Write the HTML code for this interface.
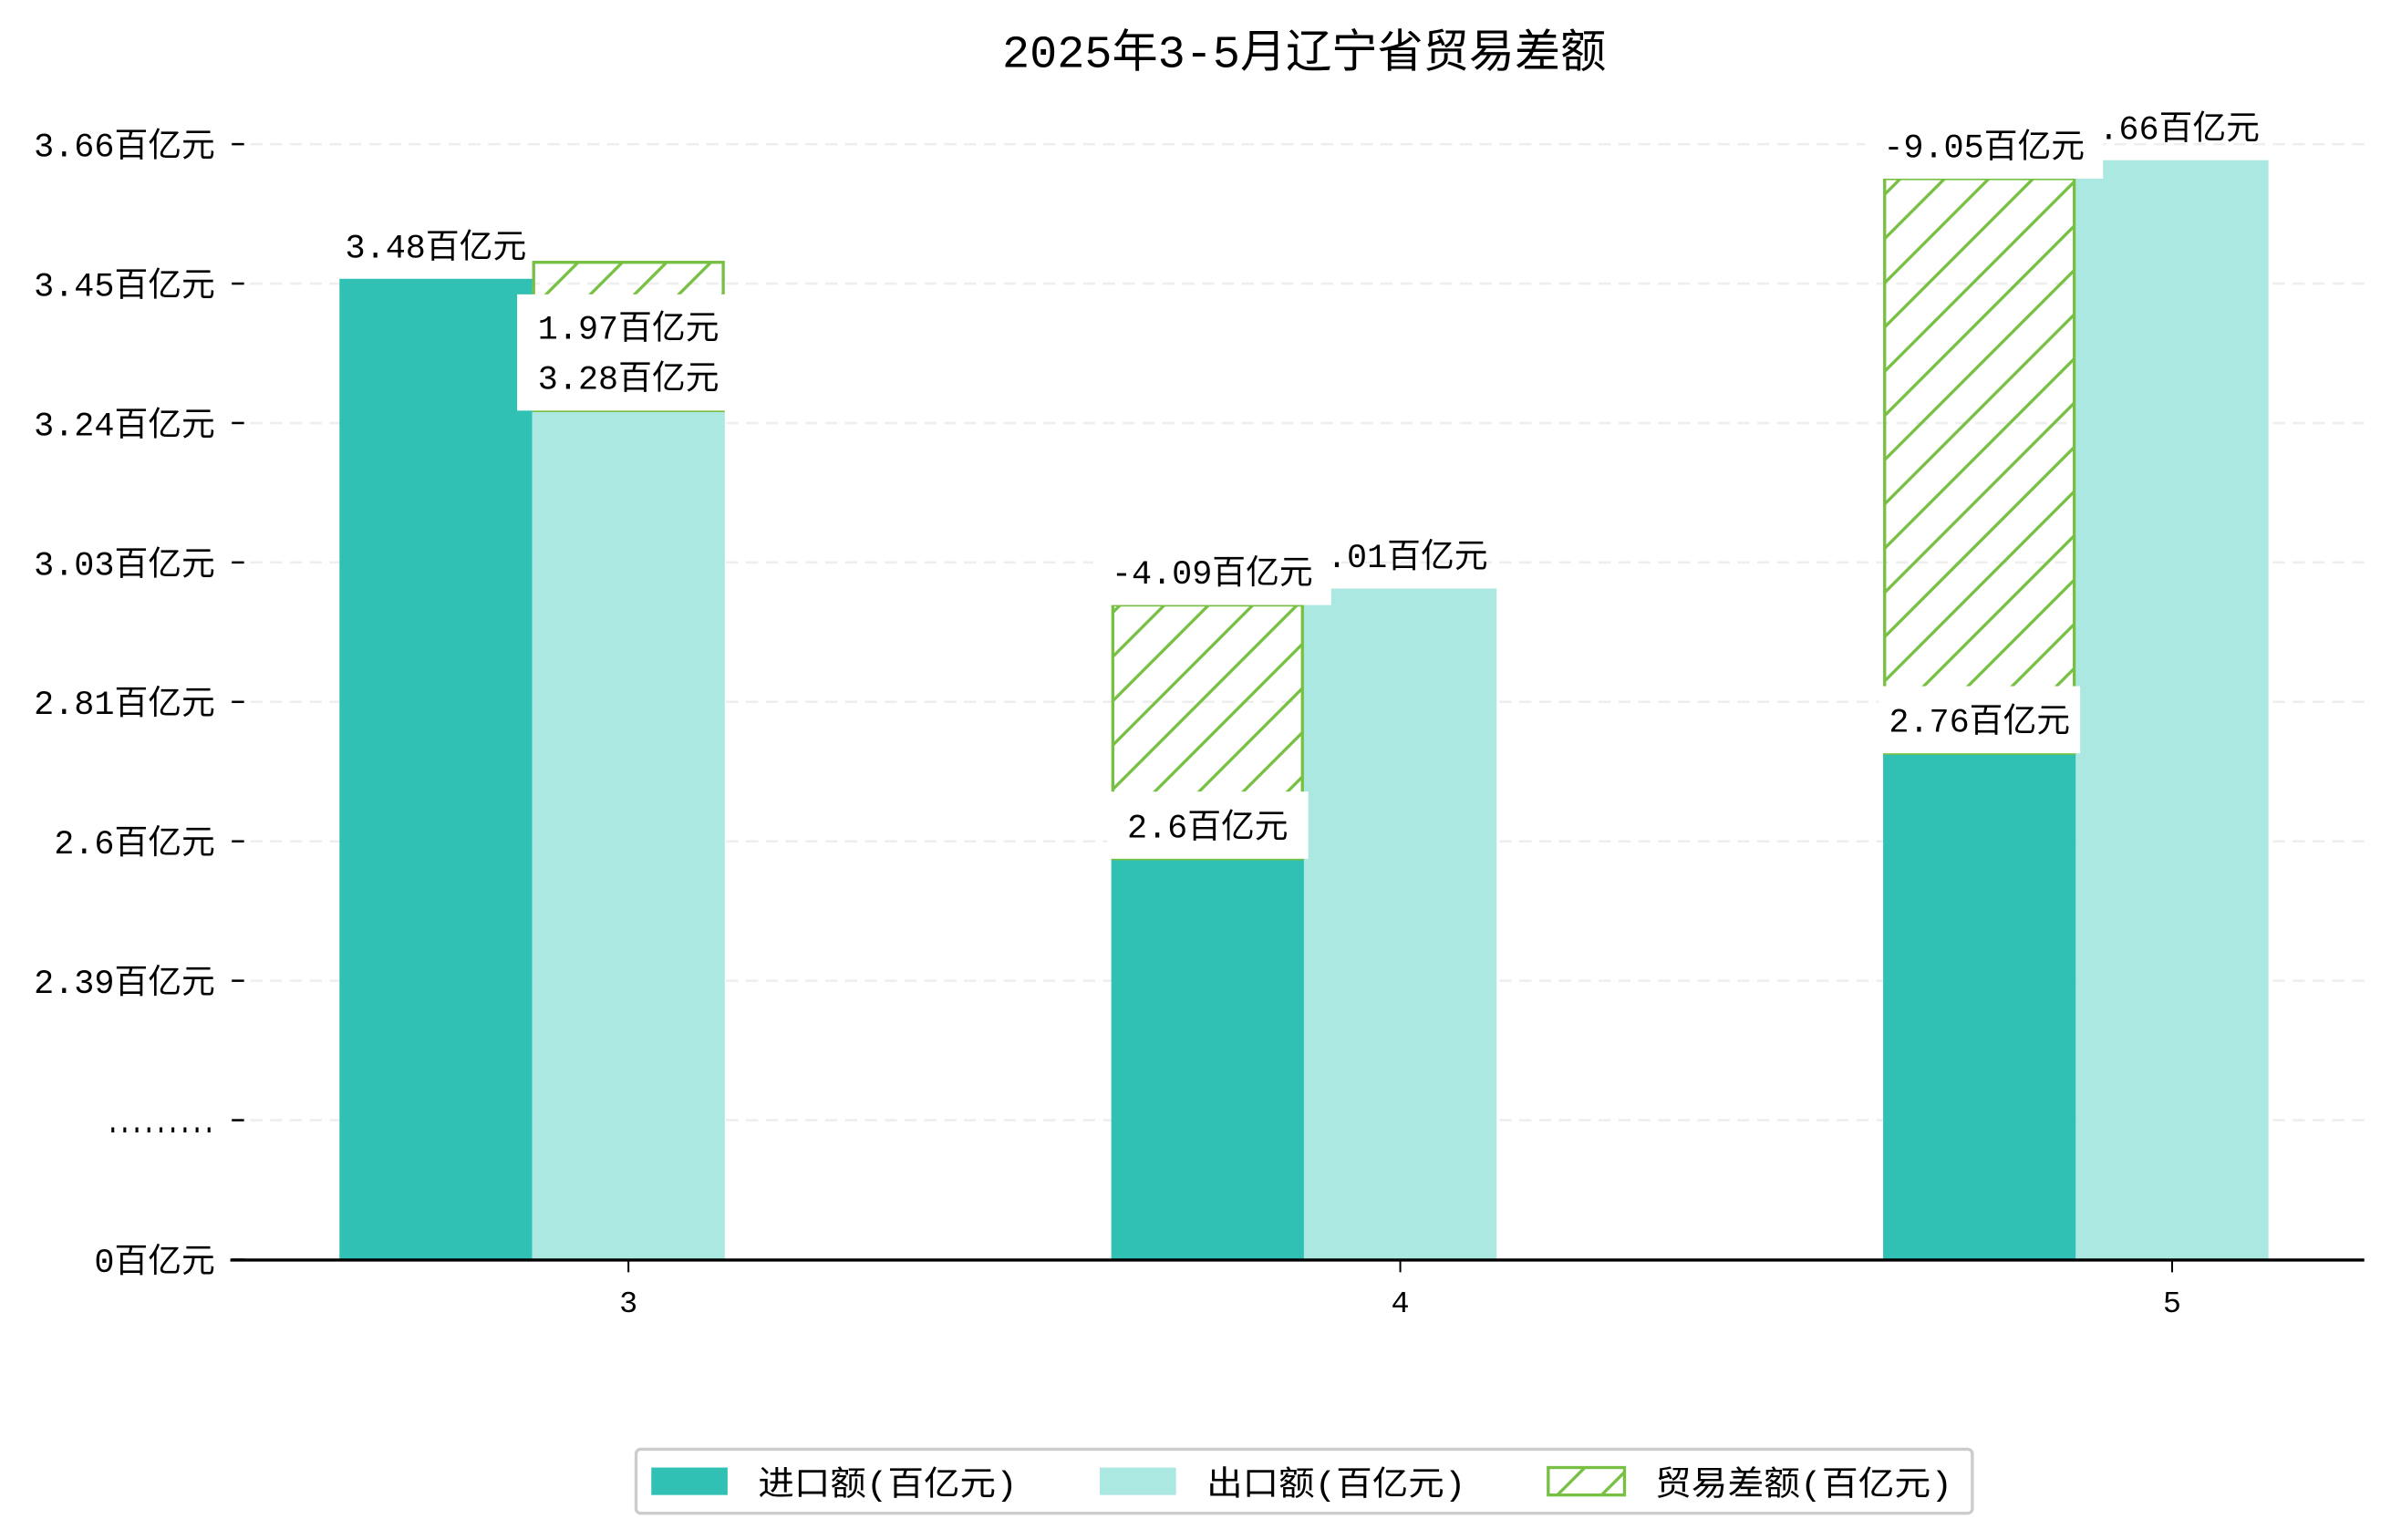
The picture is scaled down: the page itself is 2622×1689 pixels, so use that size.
<!DOCTYPE html>
<html><head><meta charset="utf-8">
<style>
html,body{margin:0;padding:0;background:#fff;}
svg{display:block;}
text{font-family:"Liberation Mono","WenQuanYi Zen Hei","Noto Sans CJK SC",monospace;fill:#000;}
</style></head>
<body>
<svg id="chart" width="2622" height="1689" viewBox="0 0 1567.5 1009.5" preserveAspectRatio="none" xmlns="http://www.w3.org/2000/svg">
<defs>
<pattern id="hatch" patternUnits="userSpaceOnUse" width="29" height="29">
<path d="M-3,3 L3,-3 M0,29 L29,0 M26,32 L32,26" stroke="#77c043" stroke-width="2"/>
</pattern>
</defs>
<text x="855" y="44" font-size="30" text-anchor="middle">2025年3-5月辽宁省贸易差额</text>
<g id="grid"></g>
<g id="bars"></g>
<g id="labels"></g>
<g id="axes"></g>
<g>
<rect x="417" y="950" width="876" height="42" rx="3" fill="#fff" stroke="#cccccc" stroke-width="2"/>
<rect x="427" y="962" width="50" height="18" fill="#31c1b4"/>
<text x="497" y="980" font-size="22" textLength="170" lengthAdjust="spacingAndGlyphs">进口额(百亿元)</text>
<rect x="721" y="962" width="50" height="18" fill="#abe8e2"/>
<text x="791" y="980" font-size="22" textLength="170" lengthAdjust="spacingAndGlyphs">出口额(百亿元)</text>
<rect x="1015" y="962" width="50" height="18" fill="url(#hatch)" stroke="#77c043" stroke-width="2"/>
<text x="1085" y="980" font-size="22" textLength="195" lengthAdjust="spacingAndGlyphs">贸易差额(百亿元)</text>
</g>
</svg>
<script>
const categories = ["3", "4", "5"];
const importValues = [3.48, 2.6, 2.76];
const exportValues = [3.28, 3.01, 3.66];
const balanceValues = [1.97, -4.09, -9.05];
const balanceTop = [3.505, 2.985, 3.632];
const yTickLabels = ["3.66百亿元","3.45百亿元","3.24百亿元","3.03百亿元","2.81百亿元","2.6百亿元","2.39百亿元",".........","0百亿元"];

const NS = "http://www.w3.org/2000/svg";
const baseY = 826, plotL = 151, plotR = 1550;
function yScale(v){ return 105 + (3.66 - v) * 432; }
function xCenter(i){ return 412 + i * 506; }
const barW = 126.3;
function tickY(i){ return 94.5 + i * 91.4; }
function mk(tag, attrs, parent){ const e = document.createElementNS(NS, tag); for (const k in attrs) e.setAttribute(k, attrs[k]); parent.appendChild(e); return e; }
function fmt(v){ return v + "百亿元"; }

const grid = document.getElementById("grid");
const axes = document.getElementById("axes");
const bars = document.getElementById("bars");
const labels = document.getElementById("labels");

yTickLabels.forEach((lab, i) => {
  const y = tickY(i);
  if (i < yTickLabels.length - 1) {
    const g = mk("line", {x1: plotL, x2: plotR, y1: y, y2: y, stroke: "#eeeeee", "stroke-width": 1.5, "stroke-dasharray": "8,5"}, grid);
    
    
  }
  const t = mk("line", {x1: 152, x2: 160, y1: y, y2: y, stroke: "#000", "stroke-width": 1.5}, axes);
  
  
  const attrs = {x: 141, y: y + 8, "font-size": 22, "text-anchor": "end"};
  if (/^\.+$/.test(lab)) { attrs.x = 70; attrs["text-anchor"] = "start"; attrs.textLength = 71; attrs.lengthAdjust = "spacingAndGlyphs"; attrs["font-weight"] = "bold"; }
  const tx = mk("text", attrs, axes);
  tx.textContent = lab;
  
  
});
const ax = mk("line", {x1: plotL, x2: plotR, y1: baseY, y2: baseY, stroke: "#000", "stroke-width": 2}, axes);



function labelText(txt, cx, y){
  const t = mk("text", {x: cx, y: y, "font-size": 22, "text-anchor": "middle"}, labels);
  t.textContent = txt;
  
  
}
function labelBox(txt, cx, bottom, w){
  const r = mk("rect", {x: cx - w/2, y: bottom - 44, width: w, height: 44, fill: "#fff"}, labels);
  
  
  labelText(txt, cx, bottom - 14);
}

categories.forEach((c, i) => {
  const cx = xCenter(i);
  const xi = cx - barW * 1.5, xe = cx - barW * 0.5;
  const yi = yScale(importValues[i]), ye = yScale(exportValues[i]);
  const bi = mk("rect", {x: xi, y: yi, width: barW, height: baseY - yi, fill: "#31c1b4"}, bars);
  
  
  const be = mk("rect", {x: xe, y: ye, width: barW, height: baseY - ye, fill: "#abe8e2"}, bars);
  
  
  const lowIsImport = importValues[i] < exportValues[i];
  const hx = lowIsImport ? xi : xe;
  const lowV = Math.min(importValues[i], exportValues[i]);
  const hy = yScale(balanceTop[i]), hb = yScale(lowV);
  const h = mk("rect", {x: hx + 1, y: hy, width: barW - 2, height: hb - hy, fill: "url(#hatch)", stroke: "#77c043", "stroke-width": 2}, bars);
  
  

  const tk = mk("line", {x1: cx, x2: cx, y1: baseY, y2: baseY + 8, stroke: "#000", "stroke-width": 1.2}, axes);
  
  
  const tl = mk("text", {x: cx, y: baseY + 34, "font-size": 20, "text-anchor": "middle"}, axes);
  tl.textContent = c;
  
  

  const ixc = xi + barW/2, exc = xe + barW/2;
  if (!lowIsImport) {
    labelText(fmt(importValues[i]), ixc, yi - 14);
    const r = mk("rect", {x: exc - 73, y: hy + 21, width: 137, height: ye - hy - 21, fill: "#fff"}, labels);
    
    
    labelText(fmt(balanceValues[i]), exc, hy + 50);
    labelText(fmt(exportValues[i]), exc, hy + 83);
  } else {
    labelText(fmt(exportValues[i]), exc - 2, ye - 14);
    labelBox(fmt(balanceValues[i]), ixc + 3, hy, 156);
    labelBox(fmt(importValues[i]), ixc, yi, 132);
  }
});
</script>
</body></html>
